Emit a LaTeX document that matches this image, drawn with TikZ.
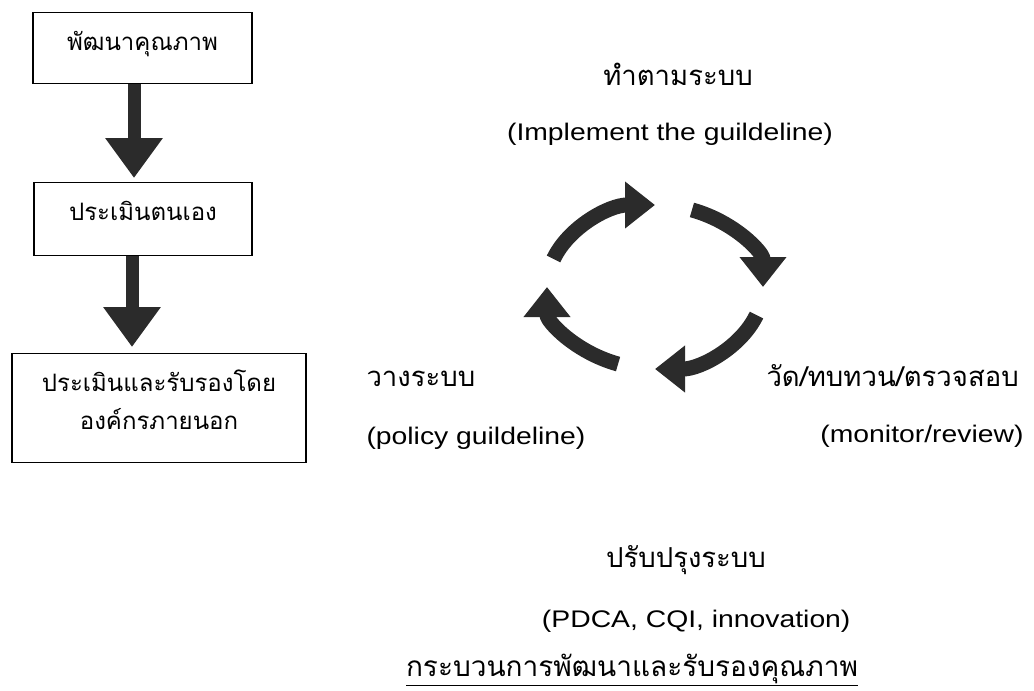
\documentclass[tikz,border=0pt]{standalone}
\usepackage{fontspec}
\setmainfont[FakeStretch=1.18]{Liberation Sans}
\newfontfamily\thaifont[Script=Thai]{Loma}
\usetikzlibrary{arrows.meta}
\definecolor{darkarrow}{rgb}{0.17,0.17,0.17}
\tikzset{box/.style = {shape=rectangle,draw,line width=1.3pt,inner ysep=0pt,anchor=north,font=\thaifont\fontsize{24}{38}\selectfont}}
\tikzset{bigarrow/.style = {line width=13pt,draw=darkarrow,-{Triangle[width=55pt,length=40pt]}}}
\tikzset{cyc/.style = {line width=15pt,draw=darkarrow,-{Triangle[width=45pt,length=30pt]}}}
\tikzset{thai/.style = {font=\thaifont\fontsize{27.5}{30}\selectfont}}
\tikzset{eng/.style = {font=\fontsize{24}{28}\selectfont}}

\begin{document}
\begin{tikzpicture}[x=1pt,y=1pt]
\useasboundingbox (0,0) rectangle (1034,-691);
% boxes
\node[box,minimum width=219pt,text height=38pt,text depth=33pt] (dev) at (142.5,-12) {พัฒนาคุณภาพ};
\node[box,minimum width=218pt,text height=38pt,text depth=35pt] (self) at (143,-182) {ประเมินตนเอง};
\node[box,minimum width=294pt,text height=76pt,text depth=33pt,align=center] (ext) at (159,-353) {ประเมินและรับรองโดย\\องค์กรภายนอก};
%arrows
\draw[bigarrow,shorten >=4pt] ([xshift=-8.5pt]dev.south) -- ([xshift=-8.5pt]dev.south |- self.north);
\draw[bigarrow,shorten >=6pt] ([xshift=-11pt]self.south) -- ([xshift=-11pt]self.south |- ext.north);
% cycle
\coordinate (cyc) at (655,-287);
\draw[cyc] (cyc) ++(160:108 and 82) arc[start angle=160,end angle=90,x radius=108,y radius=82];
\draw[cyc] (cyc) ++(70:108 and 82) arc[start angle=70,end angle=0,x radius=108,y radius=82];
\draw[cyc] (cyc) ++(-20:108 and 82) arc[start angle=-20,end angle=-90,x radius=108,y radius=82];
\draw[cyc] (cyc) ++(-110:108 and 82) arc[start angle=-110,end angle=-180,x radius=108,y radius=82];
% labels
\node[thai,anchor=base] (do) at (678,-85) {ทำตามระบบ};
\node[eng,anchor=base] (doen) at (670,-140) {(Implement the guildeline)};
\node[thai,anchor=base west] (plan) at (363,-386) {วางระบบ};
\node[eng,anchor=base west] (planen) at (363,-444) {(policy guildeline)};
\node[thai,anchor=base west] (check) at (763,-386) {วัด/ทบทวน/ตรวจสอบ};
\node[eng,anchor=base east] (checken) at (1027,-442) {(monitor/review)};
\node[thai,anchor=base] (act) at (686,-567) {ปรับปรุงระบบ};
\node[eng,anchor=base east] (acten) at (854,-627) {(PDCA, CQI, innovation)};
\node[thai,anchor=base,inner sep=1pt,font=\thaifont\fontsize{28}{30}\selectfont] (title) at (632,-676) {\underline{กระบวนการพัฒนาและรับรองคุณภาพ}};
\end{tikzpicture}
\end{document}
